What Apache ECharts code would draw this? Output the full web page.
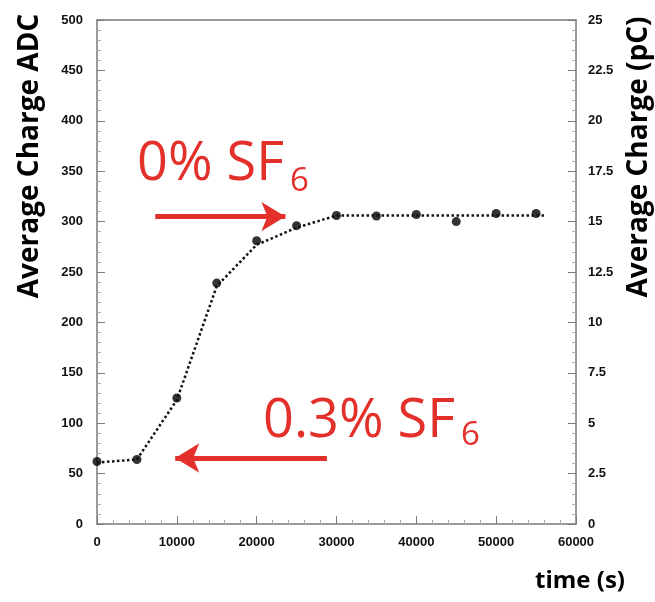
<!DOCTYPE html>
<html>
<head>
<meta charset="utf-8">
<script src="https://cdn.jsdelivr.net/npm/echarts@6/dist/echarts.min.js"></script>
<style>
html,body{margin:0;padding:0;background:#fff;}
#chart{width:655px;height:602px;}
</style>
</head>
<body>
<div id="chart"></div>
<script>
// Measured points
var timeS = [0, 5000, 10000, 15000, 20000, 25000, 30000, 35000, 40000, 45000, 50000, 55000];
var chargeADC = [62, 64, 125, 239, 281, 296, 306, 305.5, 307, 300, 308, 308];
// Dotted guide curve
var fitTime = [0, 5000, 10000, 15000, 20000, 25000, 30000, 56000];
var fitADC = [61, 64, 123, 236, 277, 294, 306, 306];
// Axis ranges / ticks
var xTicks = {min: 0, max: 60000, interval: 10000};
var yLeftTicks = {min: 0, max: 500, interval: 50};
var yRightTicks = {min: 0, max: 25, interval: 2.5};
// Annotation arrows (data coords)
var arrowTop = [[7300, 305], [23600, 305]];
var arrowBottom = [[28800, 65.5], [9800, 65.5]];

var RED = '#e3302a';
var AXIS = '#7a7a7a';
var labelFont = {color: '#111', fontWeight: 'bold', fontSize: 13, fontFamily: 'Liberation Sans'};

function pairs(a, b) { return a.map(function (v, i) { return [v, b[i]]; }); }
function plain(v) { return String(v); }

var chart = echarts.init(document.getElementById('chart'), null, {renderer: 'canvas'});
chart.setOption({
  animation: false,
  backgroundColor: '#fff',
  grid: {left: 97, right: 79, top: 20, bottom: 78},
  xAxis: [{
    type: 'value', min: xTicks.min, max: xTicks.max, interval: xTicks.interval,
    axisLine: {show: true, onZero: false, lineStyle: {color: AXIS, width: 1.5}},
    axisTick: {show: true, inside: true, length: 8, lineStyle: {color: AXIS}},
    minorTick: {show: true, splitNumber: 5, length: 4, lineStyle: {color: '#aaa'}},
    splitLine: {show: false},
    axisLabel: Object.assign({margin: 12, formatter: plain}, labelFont)
  }, {
    type: 'value', position: 'top', min: xTicks.min, max: xTicks.max,
    axisLine: {show: true, onZero: false, lineStyle: {color: AXIS, width: 1.5}},
    axisTick: {show: false}, axisLabel: {show: false}, splitLine: {show: false}
  }],
  yAxis: [{
    type: 'value', position: 'left', min: yLeftTicks.min, max: yLeftTicks.max, interval: yLeftTicks.interval,
    axisLine: {show: true, onZero: false, lineStyle: {color: AXIS, width: 1.5}},
    axisTick: {show: true, inside: true, length: 8, lineStyle: {color: AXIS}},
    minorTick: {show: true, splitNumber: 5, length: 4, lineStyle: {color: '#aaa'}},
    splitLine: {show: false},
    axisLabel: Object.assign({margin: 14, formatter: plain}, labelFont)
  }, {
    type: 'value', position: 'right', min: yRightTicks.min, max: yRightTicks.max, interval: yRightTicks.interval,
    axisLine: {show: true, onZero: false, lineStyle: {color: AXIS, width: 1.5}},
    axisTick: {show: true, inside: true, length: 8, lineStyle: {color: AXIS}},
    minorTick: {show: true, splitNumber: 5, length: 4, lineStyle: {color: '#aaa'}},
    splitLine: {show: false},
    axisLabel: Object.assign({margin: 12, formatter: plain}, labelFont)
  }],
  series: [{
    type: 'line', name: 'fit', data: pairs(fitTime, fitADC),
    showSymbol: false, symbol: 'none', silent: true,
    lineStyle: {color: '#111', width: 2.5, type: 'dotted'},
    markLine: {
      silent: true, symbol: ['none', 'arrow'], symbolSize: [22, 24],
      label: {show: false},
      lineStyle: {color: RED, width: 5, type: 'solid'},
      data: [
        [{coord: arrowTop[0]}, {coord: arrowTop[1]}],
        [{coord: arrowBottom[0]}, {coord: arrowBottom[1]}]
      ]
    }
  }, {
    type: 'scatter', name: 'data', data: pairs(timeS, chargeADC),
    symbol: 'circle', symbolSize: 9,
    itemStyle: {color: '#000'}
  }],
  graphic: [
    {type: 'text', x: 30, y: 156, rotation: Math.PI / 2,
     style: {text: 'Average Charge ADC', font: 'bold 28px "Open Sans"', fill: '#000', align: 'center', verticalAlign: 'middle'}},
    {type: 'text', x: 639, y: 157, rotation: Math.PI / 2,
     style: {text: 'Average Charge (pC)', font: 'bold 28px "Open Sans"', fill: '#000', align: 'center', verticalAlign: 'middle'}},
    {type: 'text', x: 580, y: 581,
     style: {text: 'time (s)', font: 'bold 24px "Open Sans"', fill: '#000', align: 'center', verticalAlign: 'middle'}},
    {type: 'text', x: 137, y: 165,
     style: {text: '0% SF', font: '54px "Open Sans"', fill: RED, align: 'left', verticalAlign: 'middle'}},
    {type: 'text', x: 290, y: 182,
     style: {text: '6', font: '33px "Open Sans"', fill: RED, align: 'left', verticalAlign: 'middle'}},
    {type: 'text', x: 263, y: 422,
     style: {text: '0.3% SF', font: '54px "Open Sans"', fill: RED, align: 'left', verticalAlign: 'middle'}},
    {type: 'text', x: 461, y: 436,
     style: {text: '6', font: '33px "Open Sans"', fill: RED, align: 'left', verticalAlign: 'middle'}}
  ]
});
</script>
</body>
</html>
